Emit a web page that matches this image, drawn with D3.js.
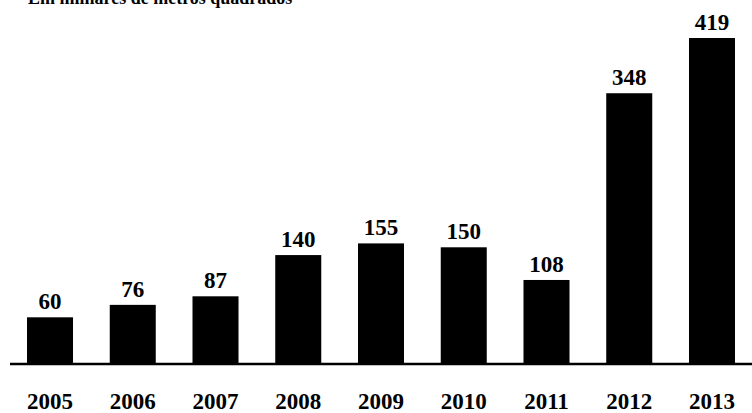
<!DOCTYPE html>
<html>
<head>
<meta charset="utf-8">
<script src="https://cdn.jsdelivr.net/npm/d3@7"></script>
<style>
  html, body { margin: 0; padding: 0; background: #fff; }
  svg { display: block; }
  text { font-family: "Liberation Serif", "DejaVu Serif", serif; fill: #000; }
</style>
</head>
<body>
<svg id="chart" width="752" height="413"></svg>
<script>
// Área em milhares de metros quadrados, por ano
const years = ["2005", "2006", "2007", "2008", "2009", "2010", "2011", "2012", "2013"];
const values = [60, 76, 87, 140, 155, 150, 108, 348, 419];
const subtitle = "Em milhares de metros quadrados";

const svg = d3.select("#chart");
const W = 752, H = 413;
const baseY = 364;

const x = d3.scaleBand()
  .domain(years)
  .range([27, 735])
  .paddingInner(0.444)
  .paddingOuter(0);

const y = d3.scaleLinear()
  .domain([0, 419])
  .range([baseY, 38]);

// subtítulo (parcialmente fora do topo)
svg.append("text")
  .attr("x", 28)
  .attr("y", 4)
  .attr("font-size", 18)
  .attr("font-weight", "bold")
  .text(subtitle);

// barras
svg.selectAll("rect.bar")
  .data(values)
  .join("rect")
  .attr("class", "bar")
  .attr("x", (d, i) => x(years[i]))
  .attr("width", x.bandwidth())
  .attr("y", d => y(d))
  .attr("height", d => y(0) - y(d))
  .attr("fill", "#000");

// rótulos de valor
svg.selectAll("text.val")
  .data(values)
  .join("text")
  .attr("class", "val")
  .attr("x", (d, i) => x(years[i]) + x.bandwidth() / 2)
  .attr("y", d => y(d) - 8)
  .attr("text-anchor", "middle")
  .attr("font-size", 23)
  .attr("font-weight", "bold")
  .text(d => d);

// linha de base
svg.append("line")
  .attr("x1", 10)
  .attr("x2", W)
  .attr("y1", baseY)
  .attr("y2", baseY)
  .attr("stroke", "#000")
  .attr("stroke-width", 2.5);

// eixo dos anos
const xAxis = d3.axisBottom(x).tickSize(0).tickPadding(0);
const gx = svg.append("g")
  .attr("transform", `translate(0, ${baseY})`)
  .call(xAxis);
gx.select(".domain").remove();
gx.selectAll("text")
  .attr("y", 45)
  .attr("dy", 0)
  .attr("font-size", 23)
  .attr("font-weight", "bold")
  .attr("font-family", "Liberation Serif, DejaVu Serif, serif")
  .attr("fill", "#000");
</script>
</body>
</html>
